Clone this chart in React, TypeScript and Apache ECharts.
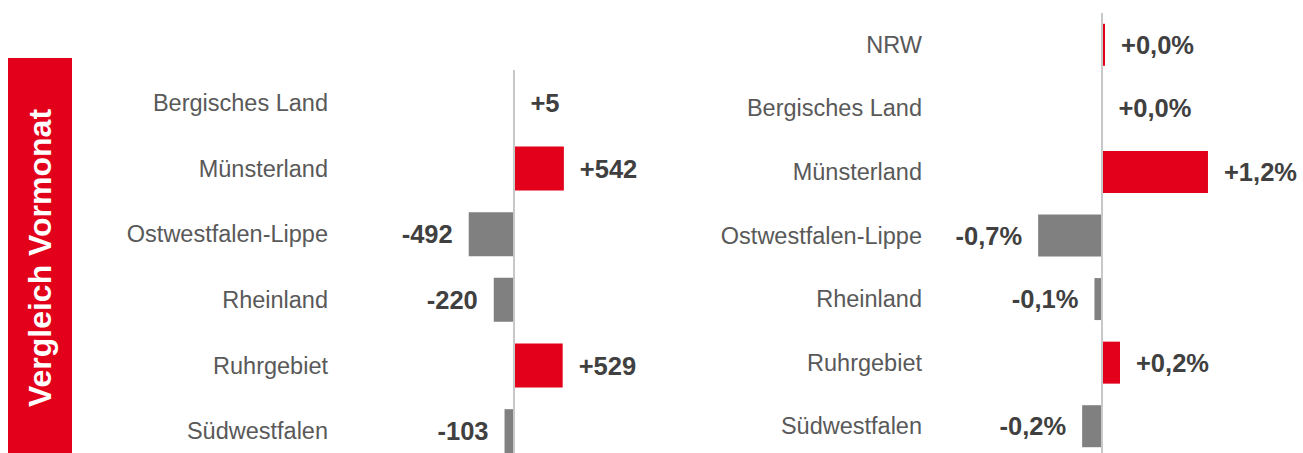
import React, { useEffect, useRef } from "react";
import * as echarts from "echarts";

const regions = ["Bergisches Land", "Münsterland", "Ostwestfalen-Lippe", "Rheinland", "Ruhrgebiet", "Südwestfalen"];
const changeAbs = [5, 542, -492, -220, 529, -103];
const regionsPct = ["NRW", "Bergisches Land", "Münsterland", "Ostwestfalen-Lippe", "Rheinland", "Ruhrgebiet", "Südwestfalen"];
const changePct = [0.04, 0.01, 1.21, -0.72, -0.08, 0.21, -0.22];
const panelTitle = "Vergleich Vormonat";

const RED = "#e2001a";
const GREY = "#808080";
const LABEL_FONT = "'Liberation Sans', Arial, sans-serif";

function fmtAbs(v: number) {
  return (v > 0 ? "+" : v < 0 ? "-" : "") + Math.abs(v);
}
function fmtPct(v: number) {
  return (v >= 0 ? "+" : "-") + Math.abs(v).toFixed(1).replace(".", ",") + "%";
}

function barData(values: number[], fmt: (v: number) => string) {
  return values.map((v) => ({
    value: v,
    itemStyle: { color: v >= 0 ? RED : GREY },
    label: {
      show: true,
      position: v >= 0 ? "right" : "left",
      distance: 16,
      formatter: () => fmt(v),
      color: "#404040",
      fontWeight: "bold",
      fontSize: 25.5,
      fontFamily: LABEL_FONT,
    },
  }));
}

const zeroLine = {
  silent: true,
  symbol: ["none", "none"],
  label: { show: false },
  lineStyle: { color: "#c8c8c8", width: 2, type: "solid" },
  data: [{ xAxis: 0 }],
};

export default function App() {
  const ref = useRef<HTMLDivElement>(null);
  useEffect(() => {
    if (!ref.current) return;
    const chart = echarts.init(ref.current, undefined, { renderer: "svg" });
    const catAxis = (data: string[], gridIndex: number, margin: number) => ({
      type: "category",
      gridIndex,
      data,
      inverse: true,
      axisLine: { show: false, onZero: false },
      axisTick: { show: false },
      axisLabel: {
        margin,
        color: "#595959",
        fontSize: 23.5,
        fontFamily: LABEL_FONT,
      },
    });
    chart.setOption({
      animation: false,
      grid: [
        { left: 330, top: 70, width: 322, height: 394, outerBoundsMode: "none", containLabel: false },
        { left: 925.5, top: 13, width: 369.6, height: 445, outerBoundsMode: "none", containLabel: false },
      ],
      xAxis: [
        { type: "value", gridIndex: 0, min: -2000, max: 1500, show: false },
        { type: "value", gridIndex: 1, min: -2, max: 2.2, show: false },
      ],
      yAxis: [catAxis(regions, 0, 2), catAxis(regionsPct, 1, 3.5)],
      series: [
        {
          type: "bar",
          xAxisIndex: 0,
          yAxisIndex: 0,
          barWidth: 44,
          data: barData(changeAbs, fmtAbs),
          markLine: zeroLine,
        },
        {
          type: "bar",
          xAxisIndex: 1,
          yAxisIndex: 1,
          barWidth: 42,
          data: barData(changePct, fmtPct),
          markLine: zeroLine,
        },
      ],
      graphic: [
        {
          type: "rect",
          shape: { x: 8, y: 58, width: 64, height: 400 },
          style: { fill: RED },
        },
        {
          type: "text",
          x: 40,
          y: 258,
          rotation: Math.PI / 2,
          style: {
            text: panelTitle,
            fill: "#ffffff",
            font: "bold 32px 'Liberation Sans', Arial, sans-serif",
            textAlign: "center",
            textVerticalAlign: "middle",
          },
        },
      ],
    });
    return () => chart.dispose();
  }, []);
  return (
    <div
      ref={ref}
      style={{ position: "fixed", left: 0, top: 0, width: 1303, height: 453, background: "#ffffff" }}
    />
  );
}
